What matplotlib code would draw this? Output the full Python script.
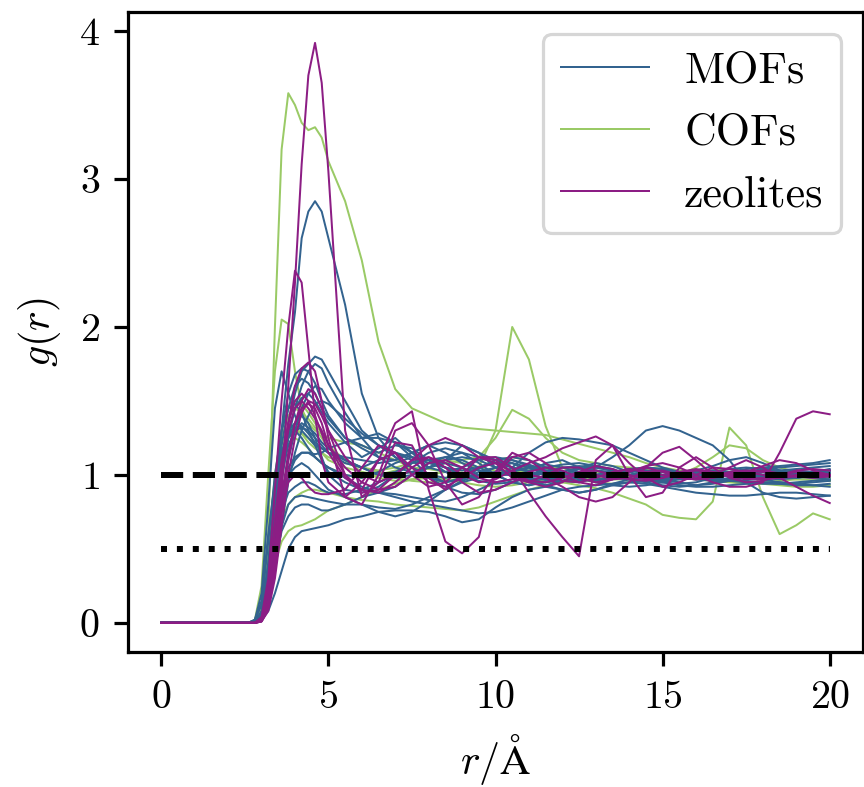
import matplotlib
matplotlib.use("Agg")
import matplotlib.pyplot as plt

# original looks like a small LaTeX-style figure scaled up; k = pt scale factor
k = 2.88
plt.rcParams['font.family'] = 'cmr10'
plt.rcParams['mathtext.fontset'] = 'cm'
plt.rcParams['axes.formatter.use_mathtext'] = True
plt.rcParams['font.size'] = 10.5 * k
plt.rcParams['xtick.labelsize'] = 10 * k
plt.rcParams['ytick.labelsize'] = 10 * k
plt.rcParams['axes.labelpad'] = 4 * k

# r grid (Angstrom), shared by all curves
r = [0.0, 2.6, 2.8, 3.0, 3.2, 3.4, 3.6, 3.8, 4.0, 4.2, 4.4, 4.6, 4.8,
     5.0, 5.5, 6.0, 6.5, 7.0, 7.5, 8.0, 8.5, 9.0, 9.5, 10.0, 10.5, 11.0, 11.5,
     12.0, 12.5, 13.0, 13.5, 14.0, 14.5, 15.0, 15.5, 16.0, 16.5, 17.0, 17.5,
     18.0, 18.5, 19.0, 19.5, 20.0]

# g(r): first row r<5, second row r = 5.0 ... 20.0
mofs = [
    [0, 0, 0.01, 0.06, 0.3, 0.8, 1.3, 1.75, 2.1, 2.6, 2.78, 2.85, 2.78,
     2.6, 2.15, 1.55, 1.25, 1.12, 1.05, 0.98, 0.95, 0.98, 1.04, 1.1, 1.08, 1.02, 0.97, 0.98, 1.02, 1.05, 1.03, 1.0, 0.98, 0.97, 1.0, 1.02, 1.03, 1.01, 0.99, 0.98, 1.0, 1.02, 1.01, 1.0],
    [0, 0, 0.02, 0.2, 0.8, 1.45, 1.7, 1.55, 1.4, 1.3, 1.25, 1.2, 1.18,
     1.15, 1.1, 1.05, 1.0, 1.02, 1.08, 1.1, 1.05, 1.0, 0.98, 1.0, 1.03, 1.05, 1.02, 1.0, 0.98, 0.99, 1.01, 1.03, 1.02, 1.0, 0.99, 0.98, 1.0, 1.02, 1.01, 1.0, 0.99, 1.0, 1.01, 1.0],
    [0, 0, 0.0, 0.03, 0.2, 0.6, 1.0, 1.35, 1.55, 1.7, 1.75, 1.8, 1.78,
     1.7, 1.5, 1.3, 1.2, 1.15, 1.12, 1.08, 1.05, 1.03, 1.05, 1.08, 1.1, 1.07, 1.03, 1.0, 0.98, 1.0, 1.02, 1.03, 1.01, 0.99, 0.98, 1.0, 1.02, 1.01, 1.0, 1.0, 1.01, 1.02, 1.01, 1.0],
    [0, 0, 0.01, 0.05, 0.35, 0.85, 1.2, 1.45, 1.6, 1.65, 1.62, 1.55, 1.45,
     1.38, 1.25, 1.2, 1.15, 1.2, 1.18, 1.1, 1.02, 0.98, 1.0, 1.05, 1.08, 1.05, 1.0, 0.96, 0.95, 0.98, 1.02, 1.04, 1.03, 1.0, 0.98, 0.97, 0.99, 1.01, 1.02, 1.0, 0.99, 0.98, 1.0, 1.02],
    [0, 0, 0.0, 0.04, 0.25, 0.7, 1.05, 1.3, 1.45, 1.52, 1.55, 1.5, 1.42,
     1.35, 1.22, 1.12, 1.18, 1.25, 1.15, 1.05, 1.1, 1.2, 1.15, 1.05, 1.0, 1.02, 1.08, 1.1, 1.05, 1.0, 0.98, 1.02, 1.05, 1.04, 1.0, 0.97, 0.96, 0.98, 1.0, 1.02, 1.03, 1.01, 1.0, 0.99],
    [0, 0, 0.02, 0.12, 0.55, 1.0, 1.3, 1.45, 1.48, 1.42, 1.3, 1.2, 1.1,
     1.02, 0.95, 0.9, 0.88, 0.92, 1.0, 1.08, 1.12, 1.1, 1.05, 1.0, 0.95, 0.93, 0.96, 1.0, 1.04, 1.06, 1.04, 1.0, 0.97, 0.96, 0.98, 1.01, 1.03, 1.02, 1.0, 0.98, 0.97, 0.98, 1.0, 1.01],
    [0, 0, 0.0, 0.02, 0.08, 0.2, 0.35, 0.5, 0.58, 0.62, 0.63, 0.64, 0.65,
     0.66, 0.7, 0.72, 0.75, 0.76, 0.76, 0.75, 0.72, 0.68, 0.7, 0.78, 0.85, 0.9, 0.92, 0.9, 0.88, 0.9, 0.93, 0.95, 0.94, 0.92, 0.9, 0.88, 0.87, 0.86, 0.86, 0.87, 0.88, 0.88, 0.87, 0.86],
    [0, 0, 0.0, 0.03, 0.15, 0.4, 0.62, 0.72, 0.78, 0.8, 0.8, 0.78, 0.76,
     0.76, 0.8, 0.85, 0.88, 0.87, 0.85, 0.83, 0.82, 0.85, 0.9, 0.95, 0.97, 0.96, 0.93, 0.9, 0.88, 0.9, 0.94, 0.97, 0.98, 0.97, 0.95, 0.93, 0.94, 0.96, 0.98, 0.97, 0.95, 0.94, 0.95, 0.96],
    [0, 0, 0.01, 0.06, 0.35, 0.8, 1.1, 1.25, 1.3, 1.32, 1.3, 1.25, 1.2,
     1.15, 1.08, 1.05, 1.1, 1.15, 1.1, 1.0, 0.95, 0.97, 1.02, 1.05, 1.0, 0.95, 0.93, 0.96, 1.0, 1.05, 1.12, 1.2, 1.3, 1.33, 1.3, 1.25, 1.2, 1.1, 0.95, 0.88, 0.85, 0.84, 0.85, 0.86],
    [0, 0, 0.0, 0.04, 0.28, 0.7, 1.0, 1.2, 1.3, 1.35, 1.32, 1.28, 1.22,
     1.18, 1.1, 1.05, 1.0, 0.98, 1.0, 1.05, 1.08, 1.05, 1.0, 0.98, 1.05, 1.15, 1.22, 1.25, 1.24, 1.22, 1.2, 1.15, 1.1, 1.05, 1.02, 1.0, 1.0, 1.02, 1.04, 1.05, 1.06, 1.07, 1.08, 1.1],
    [0, 0, 0.0, 0.02, 0.18, 0.5, 0.8, 1.0, 1.1, 1.15, 1.15, 1.12, 1.08,
     1.05, 0.98, 0.92, 0.88, 0.85, 0.82, 0.8, 0.78, 0.76, 0.74, 0.75, 0.78, 0.82, 0.86, 0.9, 0.92, 0.93, 0.94, 0.95, 0.96, 0.95, 0.93, 0.92, 0.92, 0.93, 0.94, 0.95, 0.95, 0.94, 0.93, 0.92],
    [0, 0, 0.01, 0.08, 0.4, 0.9, 1.3, 1.55, 1.68, 1.72, 1.7, 1.62, 1.5,
     1.4, 1.25, 1.18, 1.12, 1.1, 1.15, 1.2, 1.15, 1.08, 1.03, 1.0, 1.02, 1.05, 1.07, 1.05, 1.02, 1.0, 1.0, 1.02, 1.03, 1.02, 1.0, 0.99, 1.0, 1.01, 1.0, 0.99, 1.0, 1.01, 1.02, 1.03],
    [0, 0, 0.0, 0.03, 0.2, 0.55, 0.85, 1.0, 1.05, 1.08, 1.05, 1.0, 0.95,
     0.9, 0.85, 0.8, 0.75, 0.72, 0.75, 0.82, 0.9, 0.96, 1.0, 1.02, 1.0, 0.97, 0.95, 0.96, 0.98, 1.0, 1.01, 1.0, 0.99, 0.98, 0.97, 0.98, 1.0, 1.02, 1.03, 1.02, 1.0, 0.99, 0.98, 0.99],
    [0, 0, 0.0, 0.02, 0.15, 0.45, 0.8, 1.1, 1.3, 1.45, 1.55, 1.6, 1.58,
     1.5, 1.35, 1.25, 1.25, 1.22, 1.15, 1.1, 1.12, 1.15, 1.12, 1.08, 1.05, 1.03, 1.05, 1.07, 1.08, 1.06, 1.03, 1.0, 0.98, 0.97, 0.98, 1.0, 1.02, 1.04, 1.05, 1.04, 1.03, 1.04, 1.05, 1.06],
    [0, 0, 0.02, 0.15, 0.6, 0.95, 1.15, 1.28, 1.3, 1.25, 1.18, 1.12, 1.08,
     1.05, 1.0, 0.98, 1.02, 1.08, 1.12, 1.1, 1.05, 1.0, 0.96, 0.94, 0.95, 0.98, 1.02, 1.05, 1.06, 1.05, 1.03, 1.0, 0.98, 0.97, 0.98, 1.0, 1.01, 1.02, 1.01, 1.0, 0.99, 0.98, 0.99, 1.0],
    [0, 0, 0.0, 0.04, 0.3, 0.75, 1.05, 1.25, 1.35, 1.4, 1.35, 1.25, 1.12,
     1.0, 0.9, 0.88, 0.92, 1.0, 1.08, 1.15, 1.18, 1.15, 1.08, 1.0, 0.95, 0.93, 0.95, 1.0, 1.05, 1.08, 1.06, 1.02, 0.98, 0.95, 0.94, 0.95, 0.98, 1.0, 1.02, 1.03, 1.02, 1.0, 0.98, 0.97],
    [0, 0, 0.0, 0.01, 0.1, 0.35, 0.65, 0.95, 1.15, 1.3, 1.4, 1.48, 1.5,
     1.48, 1.38, 1.28, 1.2, 1.12, 1.05, 1.0, 0.98, 1.0, 1.05, 1.1, 1.12, 1.1, 1.05, 1.0, 0.97, 0.96, 0.98, 1.0, 1.02, 1.03, 1.02, 1.0, 0.98, 0.97, 0.98, 1.0, 1.02, 1.03, 1.02, 1.01],
    [0, 0, 0.0, 0.03, 0.2, 0.5, 0.75, 0.88, 0.92, 0.95, 0.95, 0.93, 0.9,
     0.88, 0.87, 0.9, 0.95, 1.0, 1.02, 0.98, 0.92, 0.88, 0.87, 0.9, 0.95, 1.0, 1.03, 1.02, 0.98, 0.95, 0.93, 0.92, 0.93, 0.95, 0.97, 0.98, 0.97, 0.96, 0.95, 0.94, 0.94, 0.95, 0.96, 0.97],
    [0, 0, 0.0, 0.03, 0.22, 0.6, 0.9, 1.05, 1.12, 1.15, 1.15, 1.14, 1.15,
     1.18, 1.22, 1.25, 1.28, 1.22, 1.12, 1.05, 1.02, 1.05, 1.1, 1.12, 1.1, 1.06, 1.02, 1.0, 0.99, 1.0, 1.02, 1.04, 1.05, 1.04, 1.02, 1.0, 0.99, 1.0, 1.02, 1.04, 1.05, 1.06, 1.07, 1.08],
    [0, 0, 0.0, 0.02, 0.18, 0.55, 0.95, 1.25, 1.45, 1.6, 1.7, 1.75, 1.72,
     1.62, 1.42, 1.25, 1.12, 1.05, 1.02, 1.05, 1.1, 1.12, 1.1, 1.05, 1.0, 0.97, 0.98, 1.02, 1.05, 1.03, 1.0, 0.97, 0.96, 0.98, 1.0, 1.03, 1.06, 1.1, 1.12, 1.08, 1.03, 1.0, 1.02, 1.04],
    [0, 0, 0.0, 0.02, 0.12, 0.4, 0.65, 0.8, 0.85, 0.86, 0.85, 0.84, 0.83,
     0.82, 0.8, 0.8, 0.78, 0.77, 0.8, 0.85, 0.9, 0.95, 0.98, 1.0, 1.0, 0.98, 0.97, 0.96, 0.96, 0.97, 0.98, 0.97, 0.95, 0.93, 0.92, 0.93, 0.95, 0.96, 0.96, 0.95, 0.94, 0.93, 0.93, 0.94],
    [0, 0, 0.01, 0.07, 0.4, 0.85, 1.15, 1.3, 1.35, 1.33, 1.28, 1.22, 1.18,
     1.15, 1.12, 1.1, 1.08, 1.1, 1.15, 1.2, 1.22, 1.2, 1.15, 1.1, 1.05, 1.02, 1.0, 1.0, 1.02, 1.03, 1.02, 1.0, 0.99, 1.0, 1.02, 1.03, 1.02, 1.0, 0.98, 0.97, 0.98, 1.0, 1.02, 1.03],
]

cofs = [
    [0, 0, 0.01, 0.12, 0.6, 2.0, 3.2, 3.58, 3.5, 3.38, 3.33, 3.35, 3.28,
     3.12, 2.85, 2.45, 1.9, 1.58, 1.45, 1.4, 1.35, 1.32, 1.31, 1.3, 1.29, 1.28, 1.27, 1.24, 1.21, 1.18, 1.15, 1.12, 1.08, 1.05, 1.03, 1.02, 1.0, 1.0, 0.99, 0.98, 0.98, 0.97, 0.97, 0.96],
    [0, 0, 0.02, 0.25, 1.0, 1.7, 2.05, 2.02, 1.7, 1.45, 1.35, 1.3, 1.28,
     1.25, 1.22, 1.2, 1.15, 1.1, 1.05, 1.0, 0.98, 1.0, 1.05, 1.1, 1.12, 1.1, 1.05, 1.0, 0.98, 0.97, 0.98, 1.0, 1.02, 1.03, 1.02, 1.0, 0.99, 1.0, 1.01, 1.02, 1.01, 1.0, 0.99, 0.98],
    [0, 0, 0.01, 0.1, 0.5, 1.0, 1.3, 1.45, 1.5, 1.48, 1.42, 1.35, 1.28,
     1.2, 1.1, 1.02, 0.98, 0.96, 0.97, 1.0, 1.02, 1.03, 1.05, 1.3, 2.0, 1.78, 1.33, 1.05, 1.0, 0.98, 0.98, 0.99, 1.0, 1.02, 1.03, 1.02, 1.0, 0.99, 0.98, 0.99, 1.0, 1.01, 1.0, 0.99],
    [0, 0, 0.01, 0.08, 0.45, 0.95, 1.25, 1.4, 1.45, 1.42, 1.38, 1.32, 1.25,
     1.18, 1.1, 1.05, 1.02, 1.0, 1.02, 1.05, 1.08, 1.1, 1.12, 1.25, 1.44, 1.38, 1.25, 1.15, 1.1, 1.08, 1.06, 1.05, 1.04, 1.03, 1.02, 1.02, 1.03, 1.04, 1.03, 1.02, 1.01, 1.0, 1.0, 1.0],
    [0, 0, 0.0, 0.05, 0.3, 0.75, 1.05, 1.2, 1.25, 1.22, 1.18, 1.12, 1.08,
     1.05, 1.0, 0.98, 1.0, 1.03, 1.05, 1.04, 1.02, 1.0, 0.99, 1.0, 1.01, 1.0, 0.98, 0.95, 0.93, 0.91, 0.88, 0.84, 0.8, 0.73, 0.71, 0.7, 0.82, 1.32, 1.2, 0.85, 0.6, 0.66, 0.74, 0.7],
    [0, 0, 0.0, 0.02, 0.15, 0.4, 0.55, 0.62, 0.65, 0.66, 0.68, 0.7, 0.73,
     0.76, 0.8, 0.85, 0.9, 0.94, 0.97, 0.98, 0.97, 0.95, 0.93, 0.92, 0.93, 0.95, 0.97, 0.98, 0.97, 0.95, 0.94, 0.95, 0.96, 0.97, 0.98, 0.97, 0.96, 0.95, 0.94, 0.94, 0.93, 0.92, 0.92, 0.93],
    [0, 0, 0.0, 0.03, 0.2, 0.5, 0.7, 0.8, 0.85, 0.88, 0.9, 0.9, 0.89,
     0.88, 0.85, 0.83, 0.82, 0.8, 0.79, 0.78, 0.77, 0.76, 0.78, 0.82, 0.86, 0.9, 0.93, 0.95, 0.96, 0.97, 0.98, 0.99, 1.0, 1.0, 0.99, 0.98, 0.97, 0.96, 0.95, 0.95, 0.96, 0.97, 0.97, 0.96],
    [0, 0, 0.01, 0.1, 0.5, 0.95, 1.2, 1.3, 1.32, 1.28, 1.22, 1.18, 1.15,
     1.12, 1.08, 1.05, 1.03, 1.05, 1.08, 1.1, 1.1, 1.08, 1.05, 1.03, 1.02, 1.03, 1.05, 1.05, 1.04, 1.02, 1.0, 0.98, 0.97, 0.98, 1.0, 1.05, 1.12, 1.2, 1.18, 1.1, 1.05, 1.02, 1.0, 0.98],
    [0, 0, 0.01, 0.08, 0.4, 0.85, 1.1, 1.25, 1.3, 1.28, 1.25, 1.2, 1.15,
     1.1, 1.05, 1.02, 1.0, 0.98, 0.96, 0.95, 0.96, 0.98, 1.0, 1.02, 1.04, 1.05, 1.04, 1.02, 1.0, 0.98, 0.97, 0.97, 0.98, 0.99, 1.0, 1.01, 1.02, 1.02, 1.01, 1.0, 0.99, 0.99, 1.0, 1.01],
]

zeolites = [
    [0, 0, 0.0, 0.02, 0.12, 0.4, 0.9, 1.6, 2.3, 3.1, 3.7, 3.92, 3.65,
     3.05, 1.3, 0.85, 0.95, 1.22, 1.2, 0.98, 0.9, 1.0, 1.12, 1.08, 0.98, 0.95, 1.0, 1.05, 1.05, 1.0, 0.97, 0.98, 1.02, 1.03, 1.0, 0.98, 0.99, 1.01, 1.02, 1.0, 0.98, 0.99, 1.0, 1.0],
    [0, 0, 0.0, 0.04, 0.3, 0.9, 1.5, 2.0, 2.38, 2.3, 1.85, 1.4, 1.1,
     0.95, 0.85, 0.95, 1.1, 1.15, 1.05, 0.95, 0.92, 0.98, 1.05, 1.08, 1.02, 0.95, 0.92, 0.95, 1.02, 1.06, 1.04, 1.0, 0.97, 0.98, 1.02, 1.04, 1.02, 0.99, 0.97, 0.98, 1.0, 1.02, 1.01, 1.0],
    [0, 0, 0.0, 0.02, 0.15, 0.5, 0.95, 1.35, 1.6, 1.72, 1.76, 1.7, 1.5,
     1.25, 0.85, 0.8, 1.0, 1.3, 1.35, 1.2, 0.95, 0.8, 0.85, 1.0, 1.12, 1.15, 1.08, 1.0, 0.95, 0.93, 0.97, 1.03, 1.05, 1.02, 0.98, 0.97, 0.99, 1.02, 1.03, 1.02, 1.0, 0.99, 0.99, 1.0],
    [0, 0, 0.0, 0.01, 0.1, 0.35, 0.75, 1.1, 1.35, 1.5, 1.58, 1.55, 1.45,
     1.3, 1.0, 0.9, 1.1, 1.35, 1.43, 0.9, 0.55, 0.47, 0.58, 1.02, 1.15, 1.1, 1.02, 0.96, 0.95, 0.98, 1.02, 1.04, 1.02, 1.0, 0.98, 0.97, 0.98, 1.0, 1.02, 1.03, 1.01, 0.99, 0.98, 0.99],
    [0, 0, 0.0, 0.01, 0.08, 0.3, 0.65, 1.0, 1.25, 1.42, 1.5, 1.48, 1.4,
     1.3, 1.12, 1.0, 0.95, 1.0, 1.1, 1.2, 1.25, 1.2, 1.12, 1.12, 1.05, 0.88, 0.72, 0.58, 0.45, 1.1, 1.2, 1.0, 0.85, 0.88, 1.05, 1.12, 1.05, 0.98, 0.95, 0.96, 1.0, 1.03, 1.04, 1.03],
    [0, 0, 0.0, 0.02, 0.2, 0.6, 1.0, 1.3, 1.45, 1.5, 1.45, 1.38, 1.3,
     1.2, 1.05, 0.95, 0.9, 0.92, 1.0, 1.08, 1.1, 1.05, 0.98, 0.95, 0.97, 1.02, 1.05, 1.03, 0.98, 0.95, 0.97, 1.02, 1.06, 1.08, 1.05, 1.0, 0.95, 0.92, 0.92, 0.95, 1.15, 1.38, 1.43, 1.41],
    [0, 0, 0.0, 0.02, 0.12, 0.45, 0.85, 1.15, 1.35, 1.45, 1.48, 1.45, 1.35,
     1.2, 1.0, 0.88, 0.9, 1.0, 1.1, 1.12, 1.05, 0.95, 0.88, 0.9, 0.95, 1.0, 0.98, 0.92, 0.85, 0.82, 0.85, 0.95, 1.05, 1.15, 1.19, 1.1, 1.0, 1.05, 1.1, 1.05, 0.98, 0.92, 0.86, 0.81],
    [0, 0, 0.0, 0.03, 0.25, 0.7, 1.1, 1.35, 1.5, 1.55, 1.5, 1.4, 1.28,
     1.15, 0.98, 0.9, 0.88, 0.95, 1.05, 1.12, 1.08, 1.0, 0.95, 0.97, 1.03, 1.08, 1.12, 1.18, 1.22, 1.26, 1.2, 1.08, 0.98, 0.92, 0.95, 1.0, 1.05, 1.04, 1.02, 1.06, 1.1, 1.08, 1.03, 1.0],
    [0, 0, 0.0, 0.01, 0.1, 0.4, 0.75, 0.95, 1.0, 0.98, 0.92, 0.88, 0.87,
     0.87, 0.9, 1.05, 1.2, 1.15, 1.0, 0.92, 0.95, 1.05, 1.12, 1.1, 1.02, 0.96, 0.95, 0.98, 1.02, 1.03, 1.0, 0.97, 0.96, 0.98, 1.01, 1.03, 1.02, 1.0, 0.98, 0.97, 0.98, 1.0, 1.01, 1.0],
]

c_mof = '#33638f'
c_cof = '#9aca66'
c_zeo = '#8c1d84'
lw = 0.5 * k

fig = plt.figure(figsize=(8.64, 7.87), dpi=100)
ax = fig.add_axes([0.148, 0.1715, 0.851, 0.8135])

for g in cofs:
    ax.plot(r, g, color=c_cof, lw=lw)
for g in mofs:
    ax.plot(r, g, color=c_mof, lw=lw)
for g in zeolites:
    ax.plot(r, g, color=c_zeo, lw=lw)

# reference levels
ax.plot([0, 20], [1, 1], color='black', ls='--', lw=1.5 * k)
ax.plot([0, 20], [0.5, 0.5], color='black', ls=':', lw=1.5 * k)

h1, = ax.plot([], [], color=c_mof, lw=lw, label='MOFs')
h2, = ax.plot([], [], color=c_cof, lw=lw, label='COFs')
h3, = ax.plot([], [], color=c_zeo, lw=lw, label='zeolites')
leg = ax.legend(handles=[h1, h2, h3], loc='upper right', fontsize=11 * k)
leg.get_frame().set_linewidth(0.8 * k)

ax.set_xlim(-1, 21)
ax.set_ylim(-0.197, 4.13)
ax.set_xticks([0, 5, 10, 15, 20])
ax.set_yticks([0, 1, 2, 3, 4])
ax.set_xlabel(r'$r/\mathrm{\AA}$')
ax.set_ylabel(r'$g(r)$')
for s in ax.spines.values():
    s.set_linewidth(0.8 * k)
ax.tick_params(width=0.8 * k, length=3.5 * k, pad=3.5 * k)

fig.savefig('out.png', dpi=100)
